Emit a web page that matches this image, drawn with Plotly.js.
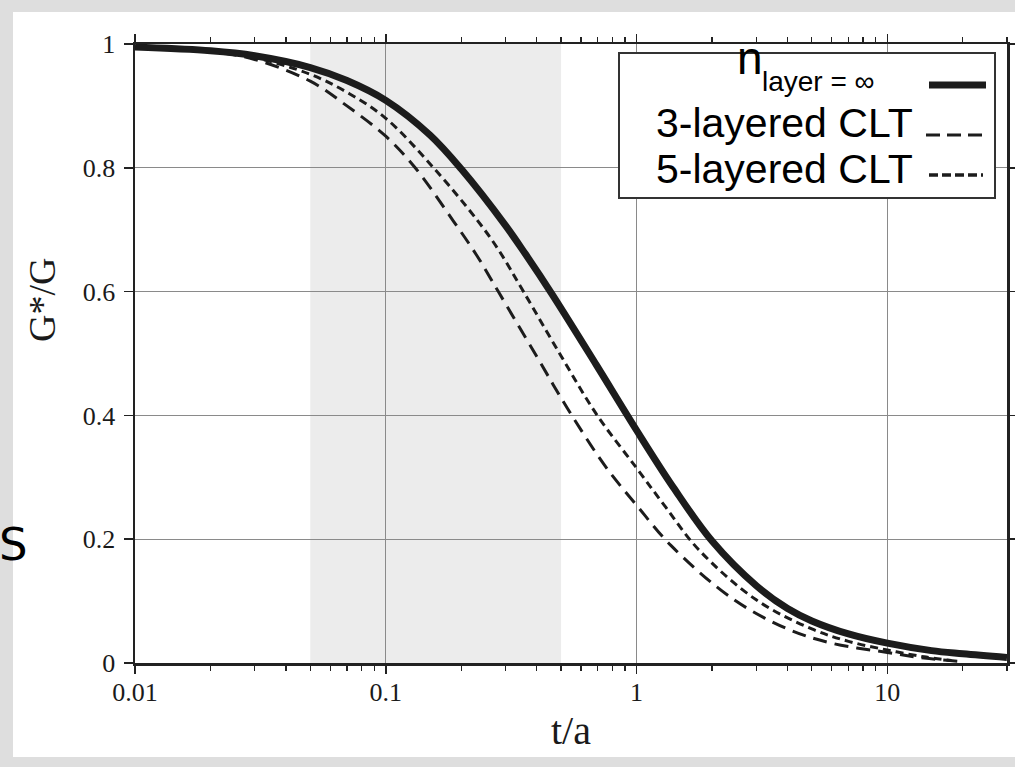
<!DOCTYPE html>
<html>
<head>
<meta charset="utf-8">
<script src="https://cdn.plot.ly/plotly-3.0.1.min.js"></script>
<style>html,body{margin:0;padding:0;background:#dedede;}#chart{width:1015px;height:767px;}</style>
</head>
<body>
<div id="chart"></div>
<script>
// ---- data ----
const tInf = [0.01,0.02,0.03,0.05,0.07,0.1,0.15,0.2,0.3,0.36,0.46,0.69,1.0,1.4,2.0,3.0,4.0,5.0,7.0,10,15,20,30];
const gInf = [0.995,0.989,0.981,0.962,0.941,0.909,0.853,0.798,0.707,0.661,0.596,0.482,0.376,0.284,0.197,0.125,0.088,0.068,0.047,0.032,0.020,0.015,0.009];

const t3 = [0.01,0.02,0.03,0.05,0.07,0.1,0.131,0.186,0.231,0.281,0.4,0.529,0.75,1.0,1.37,2.41,4,6,10,14,19];
const g3 = [0.995,0.988,0.975,0.940,0.900,0.851,0.800,0.714,0.658,0.600,0.495,0.412,0.318,0.255,0.190,0.104,0.055,0.032,0.017,0.008,0.003];

const t5 = [0.01,0.02,0.03,0.05,0.07,0.1,0.155,0.231,0.281,0.354,0.5,0.697,1.0,1.3,1.77,3.0,5.0,7.0,10,14,18];
const g5 = [0.995,0.988,0.978,0.951,0.922,0.880,0.800,0.716,0.668,0.600,0.496,0.400,0.315,0.253,0.183,0.102,0.055,0.035,0.021,0.010,0.004];

const shadedBand = [0.05, 0.5];
const xTickVals = [0.01, 0.1, 1, 10];
const xTickText = ['0.01', '0.1', '1', '10'];
const yTickVals = [0, 0.2, 0.4, 0.6, 0.8, 1];
const yTickText = ['0', '0.2', '0.4', '0.6', '0.8', '1'];
const seriesNames = ['n_layer = ∞', '3-layered CLT', '5-layered CLT'];

const ink = '#1c1c1c';
const serif = 'Liberation Serif, Times New Roman, serif';
const sans = 'Liberation Sans, Arial, sans-serif';

const traces = [
  {x: t3, y: g3, name: seriesNames[1], mode: 'lines', line: {color: ink, width: 3, dash: '14px,8px', shape: 'spline', smoothing: 1}},
  {x: t5, y: g5, name: seriesNames[2], mode: 'lines', line: {color: ink, width: 3, dash: '8px,5px', shape: 'spline', smoothing: 1}},
  {x: tInf, y: gInf, name: seriesNames[0], mode: 'lines', line: {color: ink, width: 7, shape: 'spline', smoothing: 1}}
];

// pixel helpers for the paper-space decorations (plot area 135..1007 x 44..663)
const PX = p => (p - 135) / 872;
const PY = p => (663 - p) / 619;

const layout = {
  width: 1015, height: 767, autosize: false,
  margin: {l: 135, r: 8, t: 44, b: 104},
  paper_bgcolor: '#dedede', plot_bgcolor: 'rgba(0,0,0,0)',
  showlegend: false,
  font: {family: serif, color: '#1a1a1a'},
  xaxis: {
    type: 'log', range: [Math.log10(0.01), Math.log10(30)],
    tickmode: 'array', tickvals: xTickVals, ticktext: xTickText,
    ticks: 'outside', ticklen: 8, tickwidth: 1.5, tickcolor: '#222',
    showline: true, linecolor: '#222', linewidth: 2.5, mirror: 'ticks',
    showgrid: true, gridcolor: '#8a8a8a', gridwidth: 1,
    minor: {ticks: 'outside', ticklen: 5, tickwidth: 1.2, tickcolor: '#222', dtick: 'D1', showgrid: false},
    tickfont: {family: serif, size: 26, color: '#1a1a1a'},
    ticklabelstandoff: -4,
    zeroline: false,
    title: {text: 't/a', font: {family: serif, size: 40, color: '#1a1a1a'}, standoff: 11}
  },
  yaxis: {
    range: [0, 1],
    tickmode: 'array', tickvals: yTickVals, ticktext: yTickText,
    ticks: 'outside', ticklen: 9, tickwidth: 1.5, tickcolor: '#222',
    showline: true, linecolor: '#222', linewidth: 2.5, mirror: 'ticks',
    showgrid: true, gridcolor: '#8a8a8a', gridwidth: 1,
    tickfont: {family: serif, size: 26, color: '#1a1a1a'},
    ticklabelstandoff: 3,
    zeroline: false
  },
  shapes: [
    // white page inside the grey frame
    {type: 'rect', xref: 'paper', yref: 'paper', x0: PX(13), x1: PX(1015), y0: PY(757), y1: PY(12),
     fillcolor: '#ffffff', line: {width: 0}, layer: 'below'},
    // shaded t/a band
    {type: 'rect', xref: 'x', yref: 'paper', x0: shadedBand[0], x1: shadedBand[1], y0: 0, y1: 1,
     fillcolor: '#ececec', line: {width: 0}, layer: 'below'},
    // legend box
    {type: 'rect', xref: 'paper', yref: 'paper', x0: PX(619), x1: PX(995), y0: PY(198), y1: PY(53),
     fillcolor: '#ffffff', line: {color: '#333', width: 2}, layer: 'above'},
    // legend samples
    {type: 'line', xref: 'paper', yref: 'paper', x0: PX(929), x1: PX(986), y0: PY(85), y1: PY(85),
     line: {color: ink, width: 7}, layer: 'above'},
    {type: 'line', xref: 'paper', yref: 'paper', x0: PX(926), x1: PX(986), y0: PY(135), y1: PY(135),
     line: {color: ink, width: 3, dash: '14px,7px'}, layer: 'above'},
    {type: 'line', xref: 'paper', yref: 'paper', x0: PX(929), x1: PX(983), y0: PY(175), y1: PY(175),
     line: {color: ink, width: 3.5, dash: '9px,4px'}, layer: 'above'}
  ],
  annotations: [
    {xref: 'paper', yref: 'paper', x: PX(42), y: PY(300), text: 'G*/G', textangle: -90, showarrow: false,
     xanchor: 'center', yanchor: 'middle', font: {family: serif, size: 38, color: '#1a1a1a'}},
    {xref: 'paper', yref: 'paper', x: PX(735), y: PY(58), text: 'n', showarrow: false,
     xanchor: 'left', yanchor: 'middle', font: {family: sans, size: 46, color: '#000'}},
    {xref: 'paper', yref: 'paper', x: PX(760), y: PY(81), text: 'layer = ∞', showarrow: false,
     xanchor: 'left', yanchor: 'middle', font: {family: sans, size: 28, color: '#000'}},
    {xref: 'paper', yref: 'paper', x: PX(915), y: PY(123), text: seriesNames[1], showarrow: false,
     xanchor: 'right', yanchor: 'middle', font: {family: sans, size: 41, color: '#000'}},
    {xref: 'paper', yref: 'paper', x: PX(915), y: PY(169), text: seriesNames[2], showarrow: false,
     xanchor: 'right', yanchor: 'middle', font: {family: sans, size: 41, color: '#000'}},
    {xref: 'paper', yref: 'paper', x: PX(13), y: PY(544), text: 'S', showarrow: false,
     xanchor: 'center', yanchor: 'middle', font: {family: 'DejaVu Sans, sans-serif', size: 45, color: '#000'}}
  ]
};

Plotly.newPlot('chart', traces, layout, {displayModeBar: false, staticPlot: true});
</script>
</body>
</html>
